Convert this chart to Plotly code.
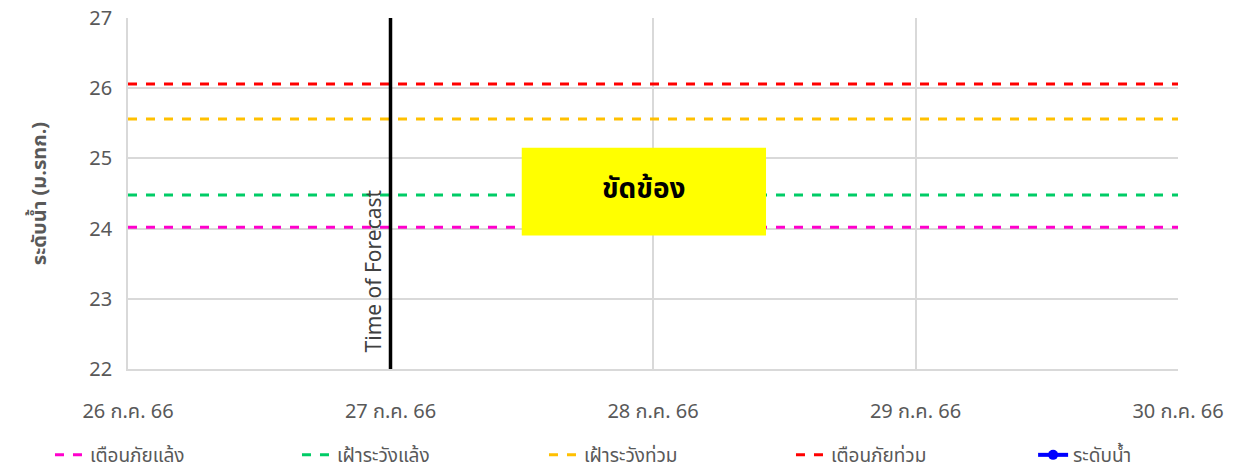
import plotly.graph_objects as go

dates = ["2023-07-26", "2023-07-27", "2023-07-28", "2023-07-29", "2023-07-30"]
tick_labels = ["26 ก.ค. 66", "27 ก.ค. 66", "28 ก.ค. 66", "29 ก.ค. 66", "30 ก.ค. 66"]
line_x = ["2023-07-26", "2023-07-30"]

drought_warning = [24.02, 24.02]   # เตือนภัยแล้ง
drought_watch = [24.48, 24.48]     # เฝ้าระวังแล้ง
flood_watch = [25.56, 25.56]       # เฝ้าระวังท่วม
flood_warning = [26.06, 26.06]     # เตือนภัยท่วม
water_x = [None]
water_level = [None]               # ระดับน้ำ (no data)

forecast_time = "2023-07-27"
status_text = "ขัดข้อง"

FONT = "Tahoma, Leelawadee UI, Noto Sans Thai, Noto Sans, sans-serif"

fig = go.Figure()
series = [
    ("เตือนภัยแล้ง", drought_warning, "#FF00CC"),
    ("เฝ้าระวังแล้ง", drought_watch, "#00CC66"),
    ("เฝ้าระวังท่วม", flood_watch, "#FFC000"),
    ("เตือนภัยท่วม", flood_warning, "#FF0000"),
]
for name, vals, col in series:
    fig.add_trace(go.Scatter(x=line_x, y=vals, mode="lines", name=name,
                             line=dict(color=col, width=3, dash="dash"),
                             hoverinfo="skip", legend="legend"))
fig.add_trace(go.Scatter(x=water_x, y=water_level, mode="lines+markers", name="ระดับน้ำ",
                         line=dict(color="#0000FF", width=4),
                         marker=dict(size=10, color="#0000FF"), legend="legend2"))

fig.add_shape(type="line", x0=forecast_time, x1=forecast_time, y0=22, y1=27,
              xref="x", yref="y", line=dict(color="black", width=3.5))
fig.add_annotation(x=forecast_time, y=22.2, xref="x", yref="y", text="Time of Forecast",
                   textangle=-90, showarrow=False, xanchor="right", yanchor="bottom",
                   xshift=1, font=dict(family=FONT, size=21, color="#404040"))

fig.add_shape(type="rect", x0="2023-07-27 12:00", x1="2023-07-28 10:20", y0=23.9, y1=25.15,
              xref="x", yref="y", fillcolor="#FFFF00", line=dict(width=0), layer="above")
fig.add_annotation(x="2023-07-27 23:10", y=24.55, xref="x", yref="y", text="<b>" + status_text + "</b>",
                   showarrow=False, font=dict(family=FONT, size=28, color="black"))

legend_common = dict(orientation="h", xanchor="left", y=-0.245, yanchor="middle",
                     font=dict(size=19, color="#595959"), tracegroupgap=0,
                     bgcolor="rgba(0,0,0,0)",
                     entrywidth=202, entrywidthmode="pixels")

fig.update_layout(
    width=1238, height=474,
    margin=dict(l=128, r=60, t=18, b=105, autoexpand=False),
    paper_bgcolor="white", plot_bgcolor="white",
    font=dict(family=FONT, color="#595959"),
    showlegend=True,
    legend=dict(x=-0.0743, **legend_common),
    legend2=dict(x=0.862, **legend_common),
)
fig.update_xaxes(range=["2023-07-26", "2023-07-30"], tickvals=dates, ticktext=tick_labels,
                 showgrid=True, gridcolor="#D9D9D9", gridwidth=1.5,
                 showline=True, linecolor="#D9D9D9", linewidth=1.5,
                 tickfont=dict(size=20, color="#595959"), ticks="", ticklabelstandoff=23)
fig.update_yaxes(range=[22, 27], dtick=1, showgrid=True, gridcolor="#D9D9D9", gridwidth=1.5,
                 showline=True, linecolor="#D9D9D9", linewidth=1.5, zeroline=False,
                 tickfont=dict(size=20, color="#595959"), ticklabelstandoff=10,
                 title=dict(text="<b>ระดับน้ำ (ม.รทก.)</b>", font=dict(size=20, color="#595959"),
                            standoff=37))

fig.write_html("out.html", config={"displayModeBar": False},
               post_script="document.body.style.margin='0px';")
